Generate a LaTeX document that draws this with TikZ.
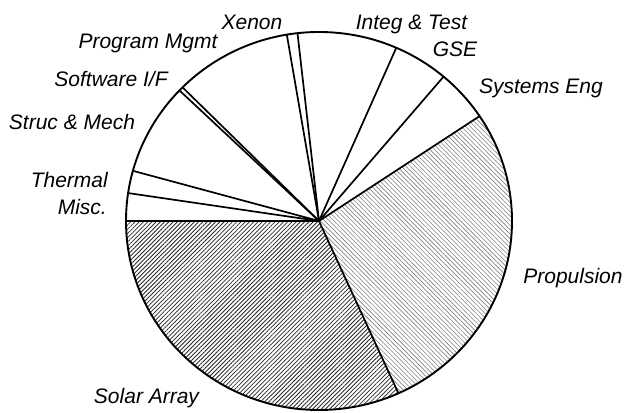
\documentclass[tikz,border=0pt]{standalone}
\usepackage{fontspec}
\setmainfont{Liberation Sans}
\usepackage{tikz}
\usetikzlibrary{patterns.meta}
\tikzstyle{lbl} = [font=\fontsize{21}{25}\itshape, text height=15pt, text depth=0pt, inner sep=0pt]
\tikzstyle{spoke} = [line width=1.7pt, line cap=round]
\tikzstyle{rim} = [line width=1.9pt]
\tikzstyle{solar} = [pattern={Lines[angle=45,distance=3pt,line width=0.8pt]}, pattern color=black!85]
\tikzstyle{prop} = [pattern={Lines[angle=-45,distance=3.2pt,line width=0.6pt]}, pattern color=black!50]

\begin{document}
\begin{tikzpicture}[x=1pt,y=1pt]
    \useasboundingbox (-319,-191) rectangle (307,221);
    \coordinate (c) at (0,0);
    % shaded slices
    \fill[solar] (c) -- (180:193 and 189) arc[start angle=180, end angle=294.3, x radius=193, y radius=189] -- cycle;
    \fill[prop] (c) -- (-65.7:193 and 189) arc[start angle=-65.7, end angle=33.7, x radius=193, y radius=189] -- cycle;
    % outline and spokes
    \draw[rim] (c) ellipse[x radius=193, y radius=189];
    \foreach \a in {-65.7,33.7,49.8,66.4,96.4,99.6,135,136.3,164.6,171.5,180}
        \draw[spoke] (c) -- (\a:193 and 189);
    % labels
    \node (xenon) [lbl] at (-67,199) {Xenon};
    \node (integ) [lbl] at (92.5,199) {Integ \& Test};
    \node (gse) [lbl] at (136,172) {GSE};
    \node (syseng) [lbl] at (222,135) {Systems Eng};
    \node (progmgmt) [lbl] at (-171,180) {Program Mgmt};
    \node (softif) [lbl] at (-208,142) {Software I/F};
    \node (struc) [lbl] at (-247,99) {Struc \& Mech};
    \node (thermal) [lbl, anchor=east] at (-211,41) {Thermal};
    \node (misc) [lbl, anchor=east] at (-212,14) {Misc.};
    \node (prop) [lbl] at (254,-55) {Propulsion};
    \node (solar) [lbl] at (-172.5,-175) {Solar Array};
\end{tikzpicture}
\end{document}
